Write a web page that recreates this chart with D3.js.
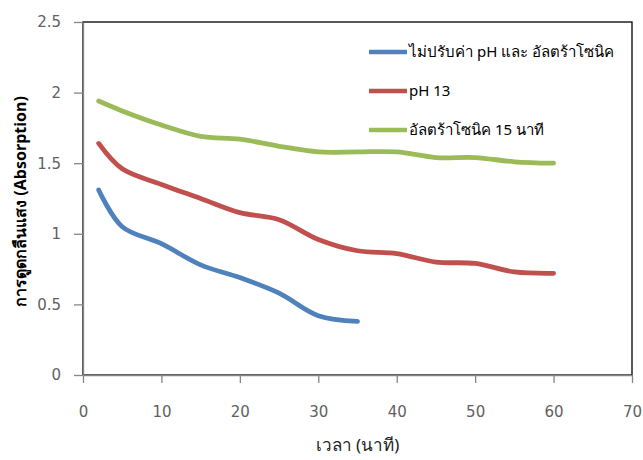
<!DOCTYPE html>
<html lang="th">
  <head>
    <meta charset="utf-8" />
    <title>Absorption vs time</title>
    <script src="https://cdn.jsdelivr.net/npm/d3@7"></script>
    <style type="text/css">
      body { margin: 0; background: #fff; }
      .axis text { font-family: "DejaVu Sans", sans-serif; font-size: 15px; fill: #616161; }
      .axis path, .axis line { stroke: #868686; stroke-width: 1.3; }
      .line { fill: none; stroke-width: 4.8; stroke-linecap: round; }
      .legend text { font-family: "Noto Sans", "DejaVu Sans", sans-serif; font-size: 15px; fill: #000; }
    </style>
  </head>
  <body>
    <div id="chart"></div>
    <script type="text/javascript">
      /*******************************************
       * data
       *******************************************/
      const names = ["ไม่ปรับค่า pH และ อัลตร้าโซนิค", "pH  13", "อัลตร้าโซนิค 15 นาที"];
      const colors = ["#4F81BD", "#C0504D", "#9BBB59"];

      const timesBlue = [2, 5, 10, 15, 20, 25, 30, 35];
      const valuesBlue = [1.31, 1.05, 0.93, 0.78, 0.69, 0.58, 0.42, 0.38];

      const timesRed = [2, 5, 10, 15, 20, 25, 30, 35, 40, 45, 50, 55, 60];
      const valuesRed = [1.64, 1.46, 1.35, 1.25, 1.15, 1.1, 0.96, 0.88, 0.86, 0.8, 0.79, 0.73, 0.72];

      const timesGreen = [2, 5, 10, 15, 20, 25, 30, 35, 40, 45, 50, 55, 60];
      const valuesGreen = [1.94, 1.87, 1.77, 1.69, 1.67, 1.62, 1.58, 1.58, 1.58, 1.54, 1.54, 1.51, 1.5];

      const xTicks = [0, 10, 20, 30, 40, 50, 60, 70];
      const yTicks = [0, 0.5, 1, 1.5, 2, 2.5];

      const series = [
        { name: names[0], color: colors[0], x: timesBlue, y: valuesBlue },
        { name: names[1], color: colors[1], x: timesRed, y: valuesRed },
        { name: names[2], color: colors[2], x: timesGreen, y: valuesGreen },
      ];

      /********************************************
       * svg
       ********************************************/
      const width = 643;
      const height = 460;
      const margin = { top: 22, right: 11, bottom: 85, left: 83 };

      const svg = d3.select("div#chart").append("svg")
        .attr("width", width)
        .attr("height", height);

      /*********************************************
       * scales
       **********************************************/
      const xScale = d3.scaleLinear().domain([0, 70]).range([margin.left, width - margin.right]);
      const yScale = d3.scaleLinear().domain([0, 2.5]).range([height - margin.bottom, margin.top]);

      // plot area border (top / right in black)
      svg.append("rect")
        .attr("x", margin.left)
        .attr("y", margin.top)
        .attr("width", width - margin.right - margin.left)
        .attr("height", height - margin.bottom - margin.top)
        .attr("fill", "none")
        .attr("stroke", "#000")
        .attr("stroke-width", 1.3);

      /*******************************************
       * axes
       *******************************************/
      const xAxis = d3.axisBottom(xScale).tickValues(xTicks).tickSize(8).tickPadding(23).tickSizeOuter(0).tickFormat(d3.format("d"));
      const yAxis = d3.axisLeft(yScale).tickValues(yTicks).tickSize(9).tickPadding(13).tickSizeOuter(0).tickFormat((d) => String(d));

      svg.append("g")
        .attr("class", "x axis")
        .attr("transform", `translate(0, ${height - margin.bottom})`)
        .call(xAxis);

      svg.append("g")
        .attr("class", "y axis")
        .attr("transform", `translate(${margin.left}, 0)`)
        .call(yAxis);

      // axis titles
      svg.append("text")
        .attr("x", (margin.left + width - margin.right) / 2)
        .attr("y", 451)
        .attr("text-anchor", "middle")
        .style("font-family", "'Noto Sans', 'DejaVu Sans', sans-serif")
        .style("font-size", "17px")
        .attr("fill", "#222")
        .text("เวลา (นาที)");

      svg.append("text")
        .attr("transform", `translate(26, ${(margin.top + height - margin.bottom) / 2 + 3}) rotate(-90)`)
        .attr("text-anchor", "middle")
        .style("font-family", "'Noto Sans', 'DejaVu Sans', sans-serif")
        .style("font-size", "16px")
        .style("font-weight", "bold")
        .attr("fill", "#000")
        .text("การดูดกลืนแสง (Absorption)");

      /*******************************************
       * lines
       *******************************************/
      const line = d3.line()
        .x((d) => xScale(d[0]))
        .y((d) => yScale(d[1]))
        .curve(d3.curveCatmullRom.alpha(0.5));

      svg.selectAll("path.line")
        .data(series)
        .enter()
        .append("path")
        .attr("class", "line")
        .attr("stroke", (d) => d.color)
        .attr("d", (d) => line(d.x.map((t, i) => [t, d.y[i]])));

      /*******************************************
       * legend
       *******************************************/
      const legend = svg.append("g").attr("class", "legend");
      const rows = legend.selectAll("g")
        .data(series)
        .enter()
        .append("g")
        .attr("transform", (d, i) => `translate(369, ${52 + i * 39})`);

      rows.append("line")
        .attr("x1", 0).attr("x2", 38)
        .attr("stroke", (d) => d.color)
        .attr("stroke-width", 4.5);

      rows.append("text")
        .attr("x", 40)
        .attr("dy", "0.35em")
        .text((d) => d.name);
    </script>
  </body>
</html>
